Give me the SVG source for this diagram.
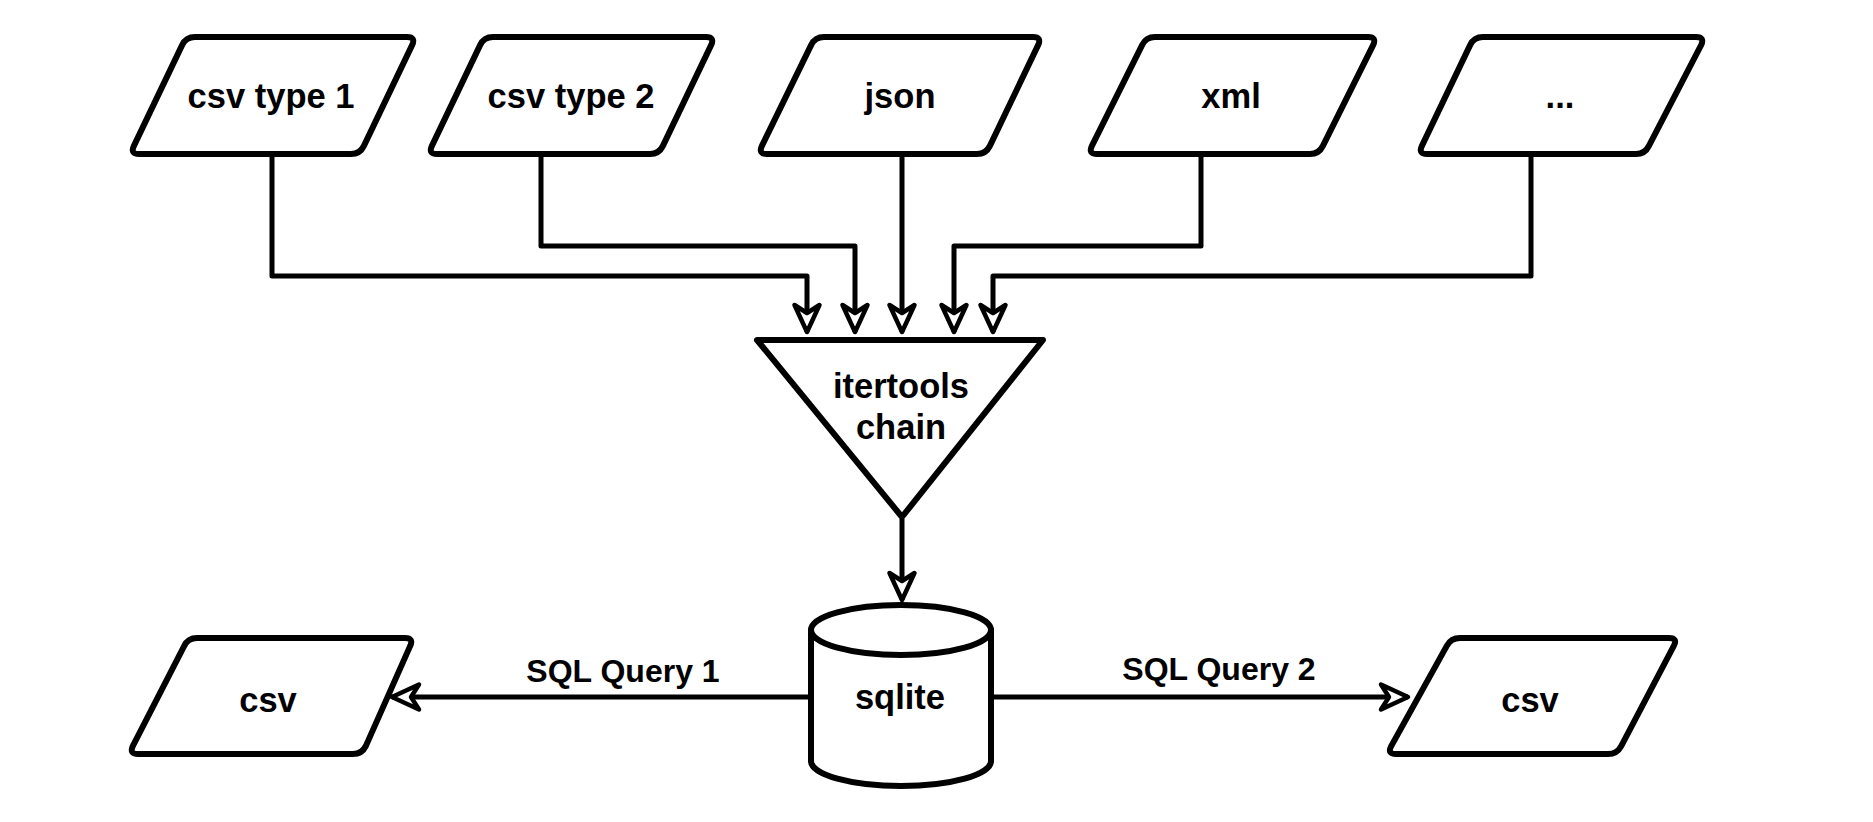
<svg xmlns="http://www.w3.org/2000/svg" width="1873" height="822" viewBox="0 0 1873 822">
<style>
.shape{fill:#fff;stroke:#000;stroke-width:6;stroke-linejoin:round;stroke-linecap:round}
.edge{fill:none;stroke:#000;stroke-width:5;stroke-linejoin:round}
.t{font-family:"Liberation Sans",Arial,sans-serif;font-weight:bold;font-size:34.5px;text-anchor:middle;fill:#000}
.lbl{font-family:"Liberation Sans",Arial,sans-serif;font-weight:bold;font-size:32px;text-anchor:middle;fill:#000}
</style>
<defs>
<marker id="arr" viewBox="-32 -16 36 32" refX="0" refY="0" markerWidth="36" markerHeight="32" orient="auto" markerUnits="userSpaceOnUse" overflow="visible">
<path d="M0,0 L-27,-12.5 L-19,0 L-27,12.5 Z" fill="#fff" stroke="#000" stroke-width="4.5" stroke-linejoin="round"/>
</marker>
</defs>
<rect width="1873" height="822" fill="#fff"/>
<g id="connectors">
<path class="edge" d="M272,156 V276 H807 V332" marker-end="url(#arr)"/>
<path class="edge" d="M541,156 V246 H855 V332" marker-end="url(#arr)"/>
<path class="edge" d="M902,156 V332" marker-end="url(#arr)"/>
<path class="edge" d="M1201,156 V246 H954 V332" marker-end="url(#arr)"/>
<path class="edge" d="M1531,156 V276 H993 V332" marker-end="url(#arr)"/>
<path class="edge" d="M902,519 V600" marker-end="url(#arr)"/>
<path class="edge" d="M811,697 H392" marker-end="url(#arr)"/>
<path class="edge" d="M991,697 H1408" marker-end="url(#arr)"/>
<text class="lbl" x="623" y="682">SQL Query 1</text>
<text class="lbl" x="1219" y="680">SQL Query 2</text>
</g>
<g id="csv-type-1">
<path class="shape" d="M195,37 H407 Q416,37 412.1,45.1 L363.9,145.9 Q360,154 351,154 H139 Q130,154 133.9,145.9 L182.1,45.1 Q186,37 195,37 Z"/>
<text class="t" x="271" y="108">csv type 1</text>
</g>
<g id="csv-type-2">
<path class="shape" d="M493,37 H706 Q715,37 711.1,45.1 L662.9,145.9 Q659,154 650,154 H437 Q428,154 431.9,145.9 L480.1,45.1 Q484,37 493,37 Z"/>
<text class="t" x="571" y="108">csv type 2</text>
</g>
<g id="json">
<path class="shape" d="M824,37 H1033 Q1042,37 1038.1,45.1 L989.9,145.9 Q986,154 977,154 H767 Q758,154 761.9,145.9 L811.1,45.1 Q815,37 824,37 Z"/>
<text class="t" x="900" y="108">json</text>
</g>
<g id="xml">
<path class="shape" d="M1155,37 H1368 Q1377,37 1373.1,45.1 L1322.9,145.9 Q1319,154 1310,154 H1097 Q1088,154 1091.9,145.9 L1142.1,45.1 Q1146,37 1155,37 Z"/>
<text class="t" x="1231" y="108">xml</text>
</g>
<g id="more">
<path class="shape" d="M1483,37 H1696 Q1705,37 1701.1,45.1 L1648.9,145.9 Q1645,154 1636,154 H1427 Q1418,154 1421.9,145.9 L1470.1,45.1 Q1474,37 1483,37 Z"/>
<text class="t" x="1560" y="108">...</text>
</g>
<g id="itertools-chain">
<path class="shape" d="M757,340 H1043 L902,517 Z"/>
<text class="t" x="901" y="398">itertools</text>
<text class="t" x="901" y="439">chain</text>
</g>
<g id="sqlite">
<path class="shape" d="M811,630 A90,25 0 0 1 991,630 V761 A90,25 0 0 1 811,761 Z"/>
<path class="shape" fill="none" d="M811,630 A90,25 0 0 0 991,630"/>
<text class="t" x="900" y="709">sqlite</text>
</g>
<g id="csv-out-1">
<path class="shape" d="M197,638 H405 Q414,638 410.1,646.1 L365.9,745.9 Q362,754 353,754 H138 Q129,754 132.9,745.9 L184.1,646.1 Q188,638 197,638 Z"/>
<text class="t" x="268" y="712">csv</text>
</g>
<g id="csv-out-2">
<path class="shape" d="M1460,638 H1669 Q1678,638 1673.8,645.9 L1621.2,746.1 Q1617,754 1608,754 H1396 Q1387,754 1391.2,746.1 L1446.8,645.9 Q1451,638 1460,638 Z"/>
<text class="t" x="1530" y="712">csv</text>
</g>
</svg>
